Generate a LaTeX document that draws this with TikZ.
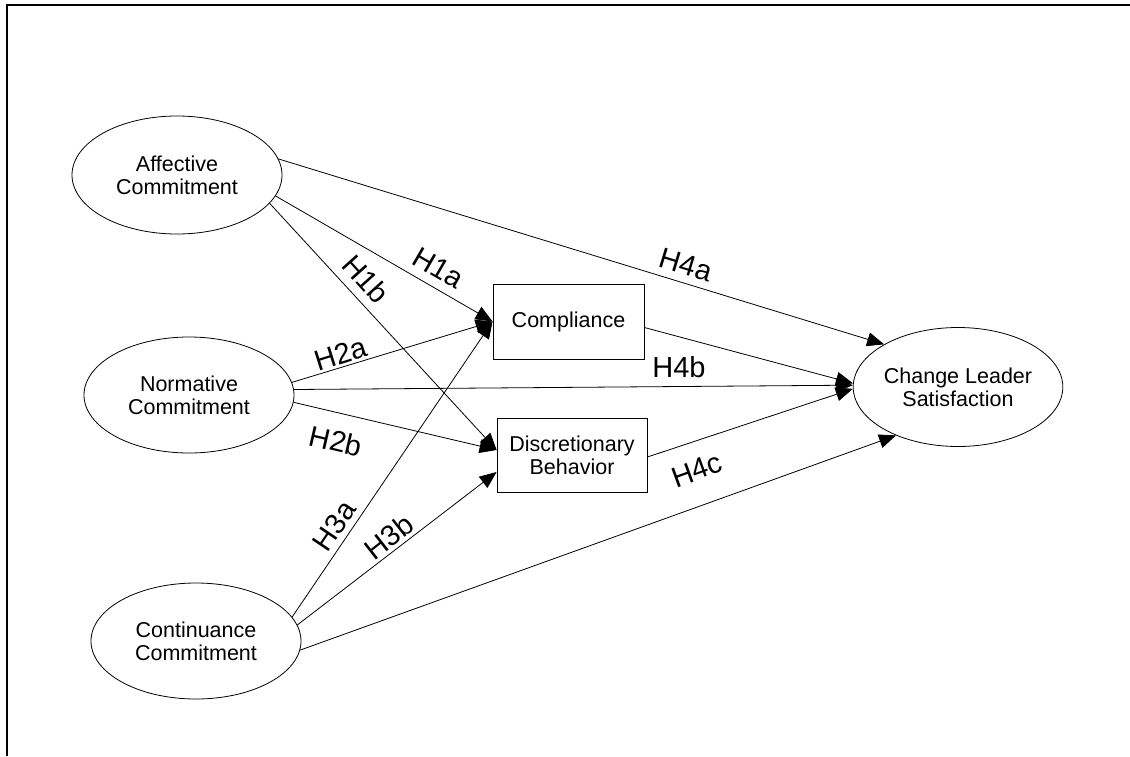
\documentclass[tikz,border=0pt]{standalone}
\usepackage{fontspec}
\setmainfont{Liberation Sans}
\usetikzlibrary{arrows.meta,shapes.geometric,calc}
\begin{document}
\begin{tikzpicture}[x=1pt,y=-1pt,
  construct/.style={ellipse,draw,line width=0.8pt,align=center,inner sep=0pt,
    font=\fontsize{21.5}{23}\selectfont},
  measure/.style={rectangle,draw,line width=0.8pt,align=center,inner sep=0pt,
    font=\fontsize{21.5}{23}\selectfont},
  link/.style={line width=0.8pt,-{Triangle[length=17pt,width=14pt]}},
  hyp/.style={inner sep=0pt,font=\fontsize{29}{31}\selectfont}]
\useasboundingbox (0,0) rectangle (1130,756);
\fill[white] (0,0) rectangle (1130,756);
% frame
\draw[line width=2.5pt] (7,756) -- (7,5) -- (1130,5);

% latent constructs
\node[construct,minimum width=210pt,minimum height=118pt] (ac) at (177,175) {Affective\\Commitment};
\node[construct,minimum width=210pt,minimum height=116pt] (nc) at (189,395) {Normative\\Commitment};
\node[construct,minimum width=210pt,minimum height=116pt] (cc) at (196,641) {Continuance\\Commitment};
\node[construct,minimum width=207pt,minimum height=119pt] (cls) at (958,387) {Change Leader\\Satisfaction};

% behaviours
\node[measure,minimum width=151pt,minimum height=75pt] (comp) at (568.5,321.5) {Compliance};
\node[measure,minimum width=150pt,minimum height=74pt] (disc) at (572,455) {Discretionary\\Behavior};

% paths
\draw[link] (ac.9) -- (cls.150);
\draw[link] (ac.-12) -- (comp.west);
\draw[link] (ac.-17) -- ($(disc.west)+(0,-5)$);
\draw[link] (nc.7) -- (comp.west);
\draw[link] (nc.3) -- (cls.179);
\draw[link] (nc.-4) -- ($(disc.west)+(0,-5)$);
\draw[link] (cc.14) -- (comp.west);
\draw[link] (cc.9) -- ($(disc.west)+(0,17)$);
\draw[link] (cc.-5) -- (cls.218);
\draw[link] ($(comp.east)+(0,6)$) -- (cls.178);
\draw[link] ($(disc.east)+(0,2)$) -- (cls.181);

% hypothesis labels
\node[hyp,rotate=-30] (h1a) at (438,268) {H1a};
\node[hyp,rotate=-48] (h1b) at (366,279) {H1b};
\node[hyp,rotate=-17] (h4a) at (686,265) {H4a};
\node[hyp,rotate=17.5] (h2a) at (341,354) {H2a};
\node[hyp] (h4b) at (679,367) {H4b};
\node[hyp,rotate=-13] (h2b) at (336,441) {H2b};
\node[hyp,rotate=56] (h3a) at (334,526) {H3a};
\node[hyp,rotate=38] (h3b) at (389,537) {H3b};
\node[hyp,rotate=20] (h4c) at (697,470) {H4c};
\end{tikzpicture}
\end{document}
